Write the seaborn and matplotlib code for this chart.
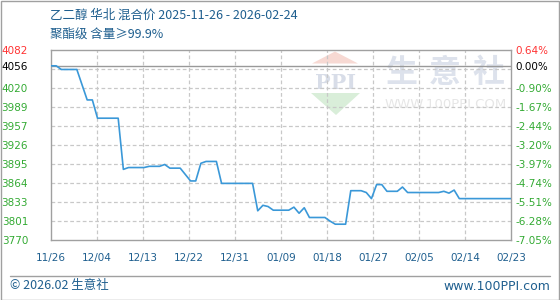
import matplotlib
matplotlib.use("Agg")
import matplotlib.pyplot as plt
from matplotlib.patches import Polygon, Rectangle
from matplotlib.lines import Line2D
import numpy as np
import pandas as pd
import seaborn as sns

# ---------------- data ----------------
title_line1 = "乙二醇 华北 混合价 2025-11-26 - 2026-02-24"
title_line2 = "聚酯级 含量≥99.9%"

dates = ["2025-11-26", "2025-11-27", "2025-11-28", "2025-12-01", "2025-12-03",
         "2025-12-04", "2025-12-05", "2025-12-09", "2025-12-10", "2025-12-11",
         "2025-12-14", "2025-12-15", "2025-12-17", "2025-12-18", "2025-12-19",
         "2025-12-21", "2025-12-23", "2025-12-24", "2025-12-25", "2025-12-26",
         "2025-12-28", "2025-12-29", "2026-01-04", "2026-01-05", "2026-01-06",
         "2026-01-07", "2026-01-08", "2026-01-11", "2026-01-12", "2026-01-13",
         "2026-01-14", "2026-01-15", "2026-01-18", "2026-01-19", "2026-01-20",
         "2026-01-22", "2026-01-23", "2026-01-25", "2026-01-26", "2026-01-27",
         "2026-01-28", "2026-01-29", "2026-01-30", "2026-02-01", "2026-02-02",
         "2026-02-03", "2026-02-09", "2026-02-10", "2026-02-11", "2026-02-12",
         "2026-02-13", "2026-02-23"]
prices = [4056, 4056, 4050, 4050, 4000,
          4000, 3970, 3970, 3886, 3889,
          3889, 3891, 3891, 3894, 3888,
          3888, 3867, 3867, 3896, 3899,
          3899, 3863, 3863, 3818, 3827,
          3825, 3819, 3819, 3824, 3814,
          3823, 3807, 3807, 3801, 3796,
          3796, 3851, 3851, 3848, 3838,
          3861, 3861, 3850, 3850, 3857,
          3848, 3848, 3850, 3847, 3852,
          3838, 3838]

base_price = 4056
start_date = "2025-11-26"
end_date = "2026-02-23"
x_tick_labels = ["11/26", "12/04", "12/13", "12/22", "12/31", "01/09",
                 "01/18", "01/27", "02/05", "02/14", "02/23"]
left_labels = ["3770", "3801", "3833", "3864", "3895", "3926", "3957",
               "3989", "4020", "4056", "4082"]
pct_values = [-7.05, -6.28, -5.51, -4.74, -3.97, -3.20, -2.44, -1.67, -0.90, 0.00, 0.64]
right_labels = ["-7.05%", "-6.28%", "-5.51%", "-4.74%", "-3.97%", "-3.20%",
                "-2.44%", "-1.67%", "-0.90%", "0.00%", "0.64%"]
footer_left = "© 2026.02 生意社"
footer_right = "www.100PPI.com"

# ---------------- styling ----------------
sns.set_style("white")
plt.rcParams["font.family"] = ["Noto Sans CJK SC", "DejaVu Sans"]

LINE_C = "#3a98d8"
BLUE_TXT = "#1f5f8f"
GREEN = "#33aa33"
RED = "#ff3333"
GRID_C = "#c8c8c8"
SPINE_C = "#a0a0a0"

W, H = 560, 300
fig = plt.figure(figsize=(W / 100, H / 100), dpi=100)
fig.patch.set_facecolor("white")

L, R, T, B = 51, 511, 50, 240
ax = fig.add_axes([L / W, 1 - B / H, (R - L) / W, (B - T) / H])

df = pd.DataFrame({"date": pd.to_datetime(dates), "price": prices})
t0 = pd.Timestamp(start_date)
df["day"] = (df["date"] - t0).dt.days
span = (pd.Timestamp(end_date) - t0).days

sns.lineplot(data=df, x="day", y="price", ax=ax, color=LINE_C, linewidth=1.2,
             zorder=4, estimator=None)

ymin = base_price * (1 + pct_values[0] / 100)
ymax = base_price * (1 + pct_values[-1] / 100)
ax.set_xlim(0, span)
ax.set_ylim(ymin, ymax)
ax.set_xlabel("")
ax.set_ylabel("")

# grid
xt = np.linspace(0, span, len(x_tick_labels))
for xv in xt[1:-1]:
    ax.axvline(xv, color=GRID_C, lw=0.9, ls=(0, (3, 2)), zorder=1)
for yv in np.linspace(ymin, ymax, 11)[1:-1]:
    ax.axhline(yv, color=GRID_C, lw=0.9, ls=(0, (3, 2)), zorder=1)
ax.axhline(base_price, color="#999999", lw=1.0, zorder=2)

for s in ax.spines.values():
    s.set_color(SPINE_C)
    s.set_linewidth(1.0)
    s.set_visible(True)

# x ticks
ax.set_xticks(xt)
ax.set_xticklabels(x_tick_labels, fontsize=7.5, color=BLUE_TXT,
                   family=["DejaVu Sans"])
ax.tick_params(axis="x", length=0, pad=9)

# left y ticks
ytick_pos = [base_price * (1 + p / 100) for p in pct_values]
ax.set_yticks(ytick_pos)
ax.set_yticklabels(left_labels, fontsize=7.5, family=["DejaVu Sans"])
ax.tick_params(axis="y", length=0, pad=16.5)
n = len(left_labels)
for i, lab in enumerate(ax.get_yticklabels()):
    if i == n - 1:
        lab.set_color(RED)
    elif i == n - 2:
        lab.set_color("black")
    else:
        lab.set_color(GREEN)

# right y ticks
ax2 = ax.twinx()
ax2.set_ylim(ymin, ymax)
ax2.set_yticks(ytick_pos)
ax2.set_yticklabels(right_labels, fontsize=7.5, family=["DejaVu Sans"])
ax2.tick_params(axis="y", length=0, pad=3)
for s in ax2.spines.values():
    s.set_visible(False)
for i, lab in enumerate(ax2.get_yticklabels()):
    if i == n - 1:
        lab.set_color(RED)
    elif i == n - 2:
        lab.set_color("black")
    else:
        lab.set_color(GREEN)


# ---------------- watermark (decoration) ----------------
def P(px, py):
    return ((px - L) / (R - L), (B - py) / (B - T))

ax.add_patch(Polygon([P(335, 51.5), P(312, 63.5), P(358, 63.5)], closed=True,
                     facecolor="#f7d9d3", edgecolor="none",
                     transform=ax.transAxes, zorder=0.5))
ax.add_patch(Polygon([P(311, 93), P(360, 93), P(336, 115)], closed=True,
                     facecolor="#d9eed9", edgecolor="none",
                     transform=ax.transAxes, zorder=0.5))
ax.text(*P(335.5, 83), "PPI", transform=ax.transAxes, ha="center", va="center",
        fontsize=15, fontweight="bold", family=["DejaVu Serif"],
        color="#d8dde8", zorder=0.5)
for cx, ch in zip([401, 445, 489], "生意社"):
    ax.text(*P(cx, 73), ch, transform=ax.transAxes, ha="center", va="center",
            fontsize=23, fontweight="bold", color="#dde2ec", zorder=0.5)
ax.text(*P(446, 105), "WWW.100PPI.COM", transform=ax.transAxes, ha="center",
        va="center", fontsize=9.5, family=["DejaVu Sans"], color="#e6e6e6",
        zorder=0.5)

# ---------------- titles / footer ----------------
fig.text(50 / W, 1 - 15 / H, title_line1, ha="left", va="center",
         fontsize=9, color=BLUE_TXT)
fig.text(50 / W, 1 - 34 / H, title_line2, ha="left", va="center",
         fontsize=9, color=BLUE_TXT)
fig.text(10 / W, 1 - 286 / H, footer_left, ha="left", va="center",
         fontsize=9, color=BLUE_TXT)
fig.text(550 / W, 1 - 286 / H, footer_right, ha="right", va="center",
         fontsize=9, color=BLUE_TXT, family=["DejaVu Sans"])

fig.add_artist(Line2D([10 / W, 550 / W], [1 - 275.5 / H, 1 - 275.5 / H],
                      transform=fig.transFigure, color="#a0a0a0", lw=1.0))
fig.add_artist(Rectangle((0.5 / W, 0.5 / H), 1 - 1.5 / W, 1 - 1.5 / H,
                         transform=fig.transFigure, fill=False,
                         edgecolor="#a0a0a0", lw=1.0))

fig.savefig("out.png", dpi=100)
